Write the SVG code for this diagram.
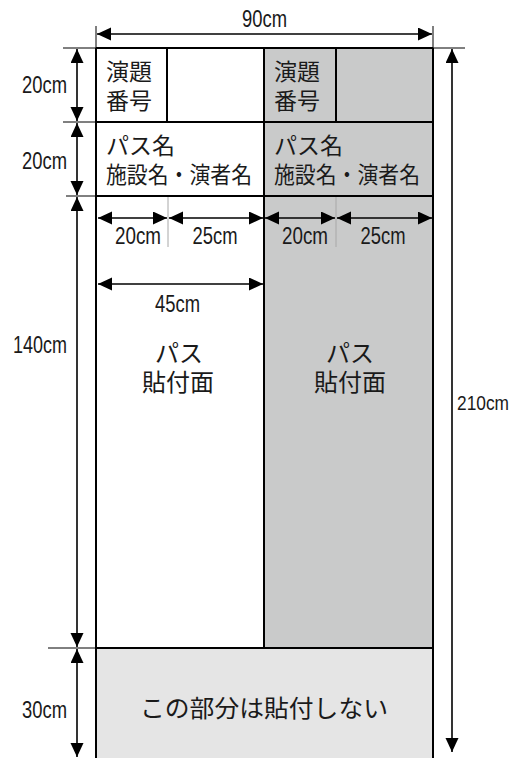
<svg xmlns="http://www.w3.org/2000/svg" width="515" height="758" viewBox="0 0 515 758">
<style>
.dim{font-family:"Liberation Sans","DejaVu Sans",sans-serif;font-size:23.5px;fill:#1a1a1a;text-anchor:middle}
.jp{font-family:"Noto Sans CJK JP","Noto Sans CJK SC",sans-serif;font-size:23px;fill:#1a1a1a}
.jpc{font-family:"Noto Sans CJK JP","Noto Sans CJK SC",sans-serif;font-size:24px;fill:#1a1a1a;text-anchor:middle}
.border{stroke:#000;stroke-width:2;fill:none}
.thin{stroke:#000;stroke-width:1;fill:none}
.dl{stroke:#000;stroke-width:1.6;fill:none;marker-start:url(#ah);marker-end:url(#ah)}
.guide{stroke:#a8a8a8;stroke-width:1;fill:none}
</style>
<defs>
<marker id="ah" markerUnits="userSpaceOnUse" markerWidth="15" markerHeight="14" refX="14" refY="6.5" orient="auto-start-reverse">
<path d="M0,0 L14,6.5 L0,13 Z" fill="#000"/>
</marker>
</defs>
<rect width="515" height="758" fill="#fff"/>

<g id="panel-left-header">
<rect x="96" y="48" width="168" height="148" fill="#fff"/>
<text class="jp" x="106" y="80">演題</text>
<text class="jp" x="106" y="109">番号</text>
<text class="jp" x="106" y="154">パス名</text>
<text class="jp" x="106" y="183" textLength="146" lengthAdjust="spacingAndGlyphs">施設名・演者名</text>
</g>
<g id="panel-right-header">
<rect x="264" y="48" width="169" height="148" fill="#c9caca"/>
<text class="jp" x="274" y="80">演題</text>
<text class="jp" x="274" y="109">番号</text>
<text class="jp" x="274" y="154">パス名</text>
<text class="jp" x="274" y="183" textLength="146" lengthAdjust="spacingAndGlyphs">施設名・演者名</text>
</g>
<g id="panel-left-body">
<rect x="96" y="196" width="168" height="452" fill="#fff"/>
<text class="jpc" x="179" y="362">パス</text>
<text class="jpc" x="178" y="391">貼付面</text>
</g>
<g id="panel-right-body">
<rect x="264" y="196" width="169" height="452" fill="#c9caca"/>
<text class="jpc" x="350" y="362">パス</text>
<text class="jpc" x="350" y="391">貼付面</text>
</g>
<g id="bottom-strip">
<rect x="96" y="648" width="337" height="120" fill="#e5e5e5"/>
<text class="jpc" x="264" y="717" textLength="248" lengthAdjust="spacingAndGlyphs">この部分は貼付しない</text>
</g>

<g id="grid">
<line class="guide" x1="168" y1="196" x2="168" y2="247"/>
<line class="guide" x1="336" y1="196" x2="336" y2="247"/>
<line class="border" x1="96" y1="48" x2="433" y2="48"/>
<line class="border" x1="96" y1="122" x2="433" y2="122"/>
<line class="border" x1="96" y1="196" x2="433" y2="196"/>
<line class="border" x1="96" y1="648" x2="433" y2="648"/>
<line class="border" x1="96" y1="48" x2="96" y2="770"/>
<line class="border" x1="433" y1="48" x2="433" y2="770"/>
<line class="border" x1="264" y1="48" x2="264" y2="648"/>
<line class="border" x1="167" y1="48" x2="167" y2="122"/>
<line class="border" x1="336" y1="48" x2="336" y2="122"/>
</g>

<g id="connectors">
<line class="thin" x1="96" y1="26" x2="96" y2="48"/>
<line class="thin" x1="433" y1="26" x2="433" y2="48"/>
<line class="thin" x1="63" y1="48" x2="96" y2="48"/>
<line class="thin" x1="63" y1="122" x2="96" y2="122"/>
<line class="thin" x1="66" y1="196" x2="96" y2="196"/>
<line class="thin" x1="48" y1="648" x2="96" y2="648"/>
<line class="thin" x1="433" y1="48" x2="465" y2="48"/>
<line class="dl" x1="97" y1="34" x2="432" y2="34"/>
<line class="dl" x1="77" y1="49" x2="77" y2="121"/>
<line class="dl" x1="77" y1="123" x2="77" y2="195"/>
<line class="dl" x1="77" y1="197" x2="77" y2="647"/>
<line class="dl" x1="77" y1="649" x2="77" y2="757"/>
<line class="dl" x1="452" y1="49" x2="452" y2="752"/>
<line class="dl" x1="98" y1="218" x2="167" y2="218"/>
<line class="dl" x1="169" y1="218" x2="263" y2="218"/>
<line class="dl" x1="265" y1="218" x2="335" y2="218"/>
<line class="dl" x1="337" y1="218" x2="432" y2="218"/>
<line class="dl" x1="98" y1="284" x2="263" y2="284"/>
</g>

<g id="dimension-labels">
<text class="dim" x="264.5" y="27" textLength="45" lengthAdjust="spacingAndGlyphs">90cm</text>
<text class="dim" x="44.5" y="93" textLength="45" lengthAdjust="spacingAndGlyphs">20cm</text>
<text class="dim" x="44.5" y="169" textLength="45" lengthAdjust="spacingAndGlyphs">20cm</text>
<text class="dim" x="40" y="353" textLength="54" lengthAdjust="spacingAndGlyphs">140cm</text>
<text class="dim" x="483" y="410" style="font-size:21px" textLength="52" lengthAdjust="spacingAndGlyphs">210cm</text>
<text class="dim" x="44.5" y="718" textLength="45" lengthAdjust="spacingAndGlyphs">30cm</text>
<text class="dim" x="138" y="244" textLength="46" lengthAdjust="spacingAndGlyphs">20cm</text>
<text class="dim" x="215" y="244" textLength="45" lengthAdjust="spacingAndGlyphs">25cm</text>
<text class="dim" x="305" y="244" textLength="46" lengthAdjust="spacingAndGlyphs">20cm</text>
<text class="dim" x="383" y="244" textLength="45" lengthAdjust="spacingAndGlyphs">25cm</text>
<text class="dim" x="177.5" y="312" textLength="45" lengthAdjust="spacingAndGlyphs">45cm</text>
</g>
</svg>
